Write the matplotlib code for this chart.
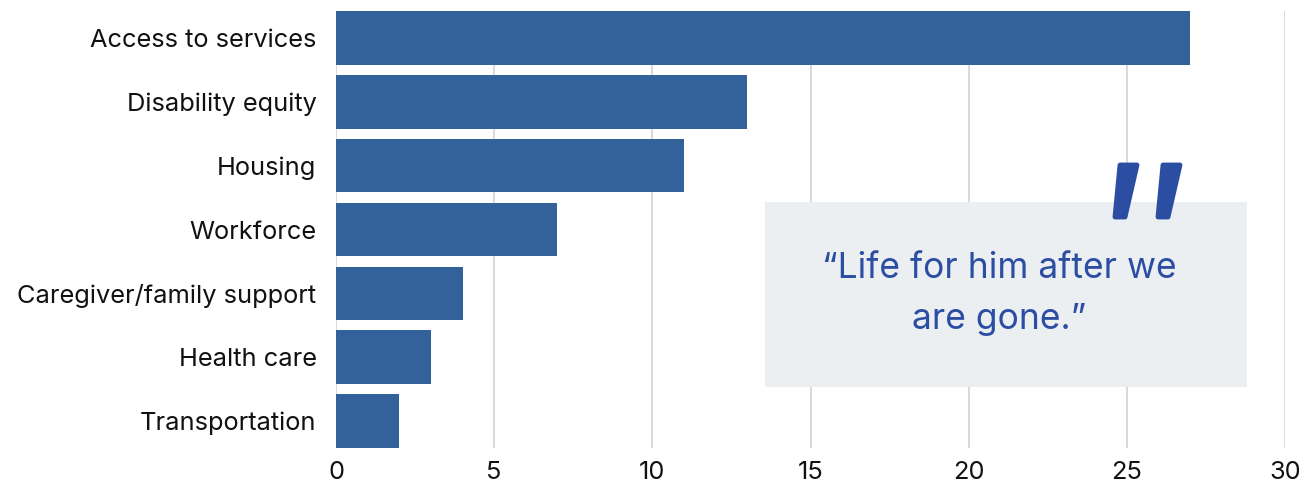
import matplotlib
matplotlib.use("Agg")
import matplotlib.pyplot as plt
from matplotlib.patches import Rectangle, Polygon

categories = [
    "Access to services",
    "Disability equity",
    "Housing",
    "Workforce",
    "Caregiver/family support",
    "Health care",
    "Transportation",
]
counts = [27, 13, 11, 7, 4, 3, 2]
x_ticks = [0, 5, 10, 15, 20, 25, 30]
quote = "\u201cLife for him after we\nare gone.\u201d"

BAR = "#336199"
GRID = "#cfcfcf"
BOX = "#ebeff2"
QUOTE = "#2b4ea3"
FONT = "Inter"

plt.rcParams["font.family"] = [FONT, "DejaVu Sans"]

W, H = 1312, 486
fig = plt.figure(figsize=(W / 100, H / 100), dpi=100)
ax = fig.add_axes([336 / W, 38 / H, (1285 - 336) / W, (448 - 11) / H])

bar_h = 0.84
ypos = list(range(len(categories)))
ax.barh(ypos, counts, height=bar_h, color=BAR, zorder=3)

ax.set_xlim(0, 30)
ax.set_ylim(len(categories) - 1 + bar_h / 2, -bar_h / 2)
ax.set_xticks(x_ticks)
ax.set_xticklabels([str(t) for t in x_ticks])
ax.set_yticks(ypos)
ax.set_yticklabels(categories)
ax.tick_params(axis="both", length=0, labelsize=18.3, colors="#111111")
ax.tick_params(axis="y", pad=14)
ax.tick_params(axis="x", pad=9)
ax.grid(axis="x", color=GRID, linewidth=1.1, zorder=0)
ax.set_axisbelow(True)
for s in ax.spines.values():
    s.set_visible(False)
for lbl in ax.get_yticklabels():
    lbl.set_va("center_baseline")

# quote panel in figure pixel space
px = fig.transFigure
def fx(x):
    return x / W
def fy(y):
    return 1 - y / H

fig.patches.append(Rectangle((fx(765), fy(387)), (1247 - 765) / W, (387 - 202) / H,
                             transform=px, facecolor=BOX, edgecolor="none", zorder=4))
fig.text(fx(999), fy(294), quote, transform=px, ha="center", va="center",
         fontsize=25.5, color=QUOTE, linespacing=1.72, zorder=5)

# big closing quotation marks
for dx in (0, 43):
    pts = [(1120 + dx, 165), (1137 + dx, 165), (1125 + dx, 217), (1115 + dx, 217)]
    fig.patches.append(Polygon([(fx(x), fy(y)) for x, y in pts], closed=True,
                               transform=px, facecolor=QUOTE, edgecolor=QUOTE,
                               linewidth=3.5, joinstyle="round", zorder=6))

fig.savefig("out.png", dpi=100)
